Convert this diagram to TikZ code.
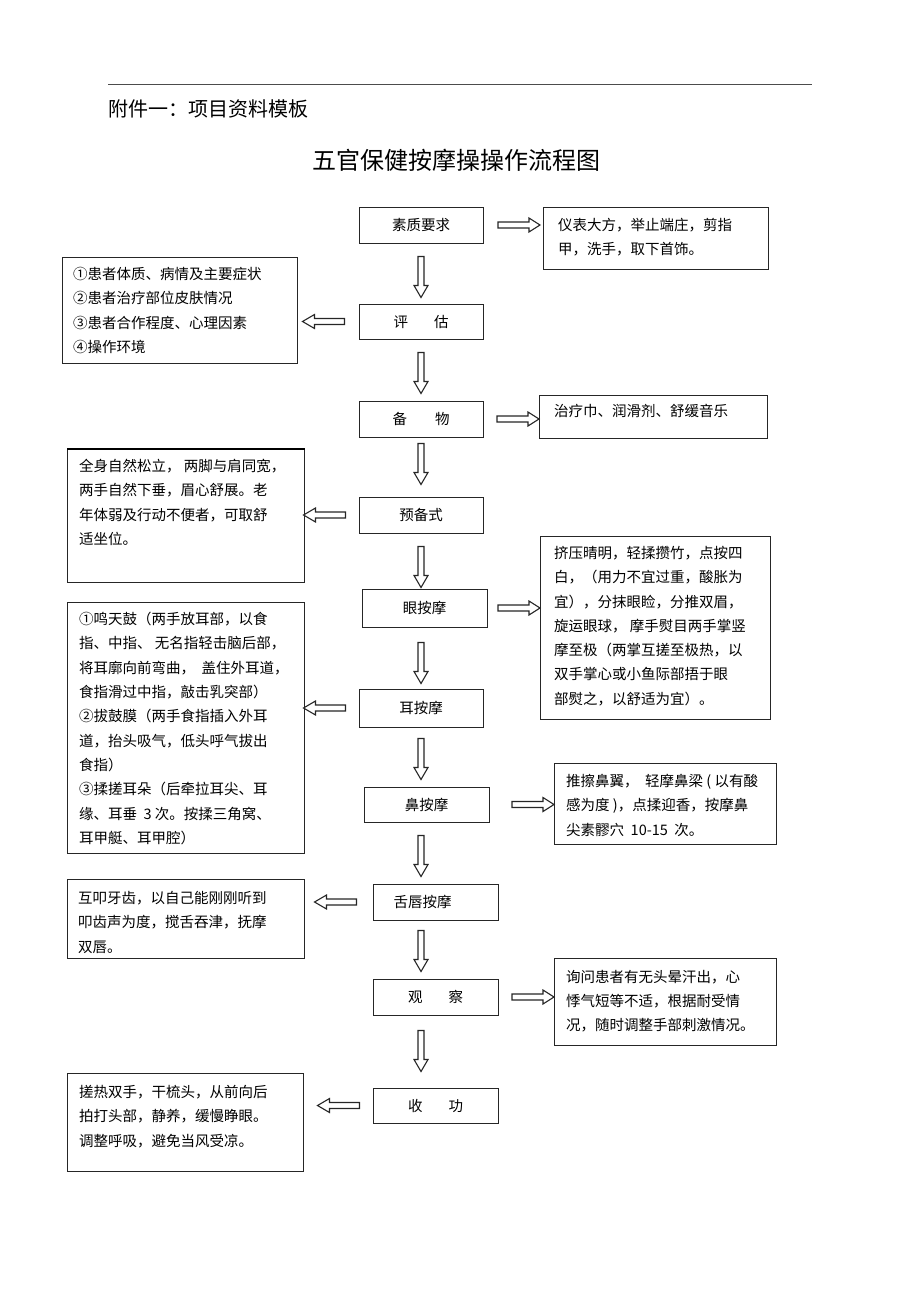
\documentclass[tikz,border=0pt]{standalone}
\usepackage{fontspec}
\newfontfamily\cjk{Noto Sans CJK SC}
\usetikzlibrary{calc}

\tikzset{
    mainbox/.style={draw=black!85, line width=1pt, minimum width=124, minimum height=36,
        inner sep=0, font=\cjk\fontsize{14.5}{17}\selectfont},
    sidebox/.style={draw=black!85, line width=1pt, anchor=north west, inner sep=0},
    sidetext/.style={anchor=north west, inner sep=0, align=left,
        font=\cjk\fontsize{14.5}{24.3}\selectfont},
    blkarrow/.style={draw=black!85, line width=1.1pt, fill=white},
    pics/downarr/.style={code={
        \draw[blkarrow] (-3,0) -- (3,0) -- (3,29) -- (7,29) -- (0,41) -- (-7,29) -- (-3,29) -- cycle;
    }},
    pics/rightarr/.style={code={
        \draw[blkarrow] (0,0) -- (-11,-7) -- (-11,-3) -- (-42,-3) -- (-42,3) -- (-11,3) -- (-11,7) -- cycle;
    }},
    pics/leftarr/.style={code={
        \draw[blkarrow] (0,-3) -- (-30,-3) -- (-30,-7) -- (-42,0) -- (-30,7) -- (-30,3) -- (0,3) -- cycle;
    }},
}

\begin{document}
\begin{tikzpicture}[x=1pt, y=-1pt]
    \useasboundingbox (0,0) rectangle (920,1303);

    % page head
    \draw[black!70, line width=1pt] (108,85) -- (812,85);
    \node[anchor=west, inner sep=0, font=\cjk\fontsize{20}{24}\selectfont] (head) at (108,109) {附件一：项目资料模板};
    \node[anchor=west, inner sep=0, font=\cjk\fontsize{24}{28}\selectfont] (title) at (312,160) {五官保健按摩操操作流程图};

    % main column
    \node[mainbox] (s1) at (421,225) {素质要求};
    \node[mainbox, minimum height=35] (s2) at (421,321.5) {评\hspace{26pt}估};
    \node[mainbox] (s3) at (421,419) {备\hspace{28pt}物};
    \node[mainbox] (s4) at (421,515) {预备式};
    \node[mainbox, minimum width=125, minimum height=38] (s5) at (424.5,608) {眼按摩};
    \node[mainbox, minimum height=38] (s6) at (421,708) {耳按摩};
    \node[mainbox, minimum width=125, minimum height=35] (s7) at (426.5,804.5) {鼻按摩};
    \node[mainbox, minimum width=125] (s8) at (435.5,902) {舌唇按摩\hspace*{26pt}};
    \node[mainbox, minimum width=125] (s9) at (435.5,997) {观\hspace{26pt}察};
    \node[mainbox, minimum width=125, minimum height=35] (s10) at (435.5,1105.5) {收\hspace{26pt}功};

    % side boxes
    \node[sidebox, minimum width=225, minimum height=62] (r1) at (543,207) {};
    \node[sidetext] at ($(r1.north west)+(15,11)$) {仪表大方，举止端庄，剪指\\甲，洗手，取下首饰。};

    \node[sidebox, minimum width=235, minimum height=106] (l1) at (62,257) {};
    \node[sidetext] at ($(l1.north west)+(11,10)$) {①患者体质、病情及主要症状\\②患者治疗部位皮肤情况\\③患者合作程度、心理因素\\④操作环境};

    \node[sidebox, minimum width=228, minimum height=43] (r2) at (539,395) {};
    \node[sidetext] at ($(r2.north west)+(15,9)$) {治疗巾、润滑剂、舒缓音乐};

    \node[sidebox, minimum width=237, minimum height=133] (l2) at (67,449) {};
    \draw[line width=2pt] (l2.north west) -- (l2.north east);
    \node[sidetext] at ($(l2.north west)+(12,10)$) {全身自然松立， 两脚与肩同宽，\\两手自然下垂，眉心舒展。老\\年体弱及行动不便者，可取舒\\适坐位。};

    \node[sidebox, minimum width=230, minimum height=183] (r3) at (540,536) {};
    \node[sidetext] at ($(r3.north west)+(14,10)$) {挤压晴明，轻揉攒竹，点按四\\白，（用力不宜过重，酸胀为\\宜），分抹眼睑，分推双眉，\\旋运眼球， 摩手熨目两手掌竖\\摩至极（两掌互搓至极热，以\\双手掌心或小鱼际部捂于眼\\部熨之，以舒适为宜）。};

    \node[sidebox, minimum width=237, minimum height=251] (l3) at (67,602) {};
    \node[sidetext] at ($(l3.north west)+(12,10)$) {①鸣天鼓（两手放耳部，以食\\指、中指、 无名指轻击脑后部，\\将耳廓向前弯曲，\ \ 盖住外耳道，\\食指滑过中指，敲击乳突部）\\②拔鼓膜（两手食指插入外耳\\道，抬头吸气，低头呼气拔出\\食指）\\③揉搓耳朵（后牵拉耳尖、耳\\缘、耳垂\ \ 3 次。按揉三角窝、\\耳甲艇、耳甲腔）};

    \node[sidebox, minimum width=222, minimum height=81] (r4) at (554,763) {};
    \node[sidetext] at ($(r4.north west)+(12,11)$) {推擦鼻翼，\ \ 轻摩鼻梁 ( 以有酸\\感为度 )，点揉迎香，按摩鼻\\尖素髎穴\ \ 10-15\ \ 次。};

    \node[sidebox, minimum width=237, minimum height=79] (l4) at (67,879) {};
    \node[sidetext] at ($(l4.north west)+(11,12)$) {互叩牙齿，以自己能刚刚听到\\叩齿声为度，搅舌吞津，抚摩\\双唇。};

    \node[sidebox, minimum width=222, minimum height=87] (r5) at (554,958) {};
    \node[sidetext] at ($(r5.north west)+(12,12)$) {询问患者有无头晕汗出，心\\悸气短等不适，根据耐受情\\况，随时调整手部刺激情况。};

    \node[sidebox, minimum width=236, minimum height=98] (l5) at (67,1073) {};
    \node[sidetext] at ($(l5.north west)+(12,12)$) {搓热双手，干梳头，从前向后\\拍打头部，静养，缓慢睁眼。\\调整呼吸，避免当风受凉。};

    % block arrows
    \coordinate (ax) at (421,0);
    \path (s1.south -| ax) ++(0,13) pic {downarr};
    \path (s2.south -| ax) ++(0,13) pic {downarr};
    \path (s3.south -| ax) ++(0,6) pic {downarr};
    \path (s4.south -| ax) ++(0,13) pic {downarr};
    \path (s5.south -| ax) ++(0,15) pic {downarr};
    \path (s6.south -| ax) ++(0,11) pic {downarr};
    \path (s7.south -| ax) ++(0,13) pic {downarr};
    \path (s8.south -| ax) ++(0,10) pic {downarr};
    \path (s9.south -| ax) ++(0,15) pic {downarr};

    \path (s1.east -| r1.west) ++(-3,0) pic {rightarr};
    \path (s3.east -| r2.west) pic {rightarr};
    \path (s5.east -| r3.west) pic {rightarr};
    \path (s7.east -| r4.west) pic {rightarr};
    \path (s9.east -| r5.west) pic {rightarr};

    \path (s2.west) ++(-14,0) pic {leftarr};
    \path (s4.west) ++(-13,0) pic {leftarr};
    \path (s6.west) ++(-13,0) pic {leftarr};
    \path (s8.west) ++(-16,0) pic {leftarr};
    \path (s10.west) ++(-13,0) pic {leftarr};
\end{tikzpicture}
\end{document}
